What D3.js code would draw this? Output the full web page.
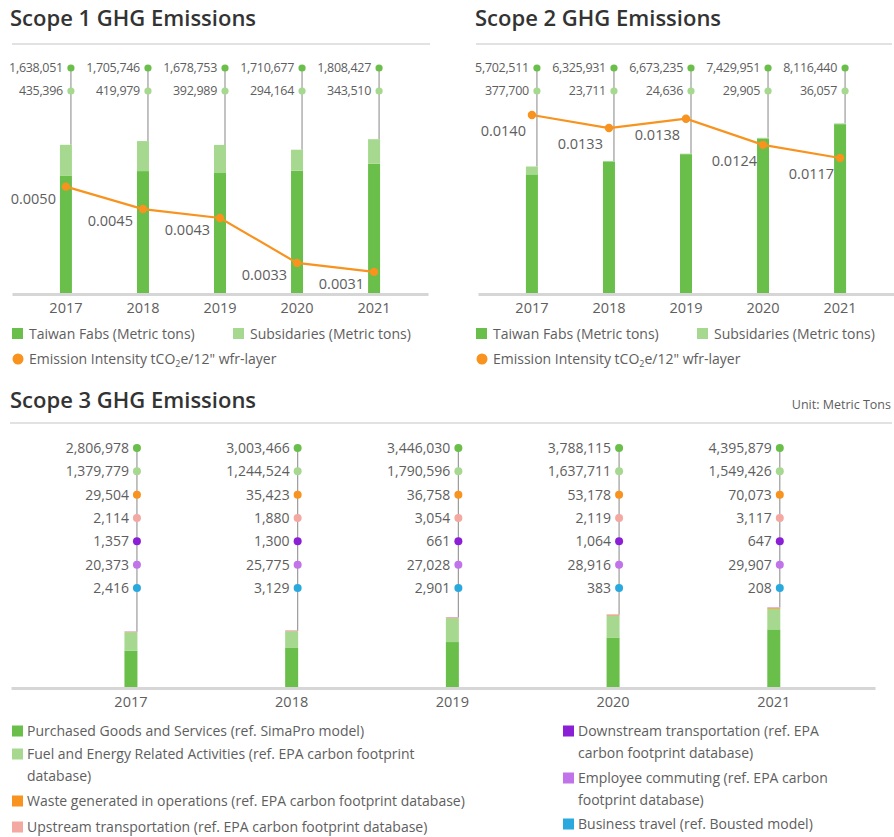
<!DOCTYPE html>
<html>
<head>
<meta charset="utf-8">
<script src="https://cdn.jsdelivr.net/npm/d3@7"></script>
<style>
  body { margin: 0; background: #fff; }
  svg { display: block; font-family: "Open Sans", "Noto Sans", sans-serif; }
</style>
</head>
<body>
<svg id="chart" width="894" height="837"></svg>
<script>
// ---- data ----
const years = ["2017", "2018", "2019", "2020", "2021"];

const scope1Fabs = [1638051, 1705746, 1678753, 1710677, 1808427];
const scope1Subs = [435396, 419979, 392989, 294164, 343510];
const scope1Intensity = [0.0050, 0.0045, 0.0043, 0.0033, 0.0031];

const scope2Fabs = [5702511, 6325931, 6673235, 7429951, 8116440];
const scope2Subs = [377700, 23711, 24636, 29905, 36057];
const scope2Intensity = [0.0140, 0.0133, 0.0138, 0.0124, 0.0117];

const scope3Keys = ["purchased", "fuel", "waste", "upstream", "downstream", "commuting", "travel"];
const scope3Purchased = [2806978, 3003466, 3446030, 3788115, 4395879];
const scope3Fuel = [1379779, 1244524, 1790596, 1637711, 1549426];
const scope3Waste = [29504, 35423, 36758, 53178, 70073];
const scope3Upstream = [2114, 1880, 3054, 2119, 3117];
const scope3Downstream = [1357, 1300, 661, 1064, 647];
const scope3Commuting = [20373, 25775, 27028, 28916, 29907];
const scope3Travel = [2416, 3129, 2901, 383, 208];

const topLegendLabels = ["Taiwan Fabs (Metric tons)", "Subsidaries (Metric tons)"];
const scope3LegendLines = [
  ["Purchased Goods and Services (ref. SimaPro model)"],
  ["Fuel and Energy Related Activities (ref. EPA carbon footprint", "database)"],
  ["Waste generated in operations (ref. EPA carbon footprint database)"],
  ["Upstream transportation (ref. EPA carbon footprint database)"],
  ["Downstream transportation (ref. EPA", "carbon footprint database)"],
  ["Employee commuting (ref. EPA carbon", "footprint database)"],
  ["Business travel (ref. Bousted model)"]
];

// ---- styles ----
const C = {
  fabs: "#6abf4b", subs: "#a6d98f", orange: "#f7931e",
  purchased: "#6abf4b", fuel: "#a6d98f", waste: "#f7931e", upstream: "#f4a8a2",
  downstream: "#8a1fd6", commuting: "#c173ea", travel: "#2aa9df",
  text: "#5e5e5e", title: "#333", rule: "#e2e2e2", axis: "#d6d6d6", stem: "#9a9a9a"
};
const fmt = d3.format(",");
const svg = d3.select("#chart");

function title(x, y, str) {
  svg.append("text").attr("x", x).attr("y", y).text(str)
    .attr("font-size", 22).attr("font-weight", 600).attr("fill", C.title);
}

function rule(x1, x2, y) {
  svg.append("line").attr("x1", x1).attr("x2", x2).attr("y1", y).attr("y2", y)
    .attr("stroke", C.rule).attr("stroke-width", 2);
}

function axis(g, x, y0, fontSize) {
  const a = g.append("g").attr("transform", `translate(0,${y0})`)
    .call(d3.axisBottom(x).tickSize(0).tickPadding(9));
  a.select(".domain").attr("stroke", C.axis).attr("stroke-width", 3);
  a.selectAll("text").attr("font-size", fontSize).attr("fill", C.text)
    .attr("font-family", "Open Sans, sans-serif");
}

// ---- scope 1 / scope 2 panels ----
function topPanel(cfg) {
  const g = svg.append("g");
  title(cfg.titleX, 26, cfg.title);
  rule(cfg.ruleX[0], cfg.ruleX[1], 44);

  const base = 293, top = 60;
  const x = d3.scaleBand().domain(years).range(cfg.range).paddingInner(0).paddingOuter(0.2);
  const y = d3.scaleLinear().domain([0, cfg.max]).range([base, top]);
  const yi = d3.scaleLinear().domain(cfg.intDomain).range([base, top]);
  const rowY = d3.scalePoint().domain(["fabs", "subs"]).range([68, 91]);
  const cx = d => x(d) + x.bandwidth() / 2;
  const barW = 12;

  const rows = years.map((yr, i) => ({ year: yr, fabs: cfg.fabs[i], subs: cfg.subs[i] }));
  const series = d3.stack().keys(["fabs", "subs"])(rows);

  // stems from the value markers down to the bar top
  g.selectAll(".stem").data(series[1]).join("line")
    .attr("x1", d => cx(d.data.year) + 5).attr("x2", d => cx(d.data.year) + 5)
    .attr("y1", rowY("fabs")).attr("y2", d => y(d[1]))
    .attr("stroke", C.stem).attr("stroke-width", 1.2);

  // stacked bars
  g.selectAll(".layer").data(series).join("g").attr("fill", s => C[s.key])
    .selectAll("rect").data(s => s).join("rect")
    .attr("x", d => cx(d.data.year) - barW / 2).attr("width", barW)
    .attr("y", d => y(d[1])).attr("height", d => y(d[0]) - y(d[1]));

  axis(g, x, base + 1, 14.5);

  // value markers and labels
  ["fabs", "subs"].forEach(k => {
    g.selectAll(".dot-" + k).data(rows).join("circle")
      .attr("cx", d => cx(d.year) + 5).attr("cy", rowY(k)).attr("r", 3.6).attr("fill", C[k]);
    g.selectAll(".lab-" + k).data(rows).join("text")
      .attr("x", d => cx(d.year) - 3).attr("y", rowY(k)).attr("dy", "0.35em")
      .attr("text-anchor", "end").attr("font-size", 12.5).attr("fill", C.text)
      .attr("letter-spacing", -0.3)
      .text(d => fmt(d[k]));
  });

  // intensity line
  const pts = years.map((yr, i) => ({ year: yr, v: cfg.intensity[i] }));
  g.append("path").datum(pts)
    .attr("d", d3.line().x(d => cx(d.year)).y(d => yi(d.v)))
    .attr("fill", "none").attr("stroke", C.orange).attr("stroke-width", 2.2);
  g.selectAll(".ipt").data(pts).join("circle")
    .attr("cx", d => cx(d.year)).attr("cy", d => yi(d.v)).attr("r", 4.2).attr("fill", C.orange);
  g.selectAll(".ilab").data(pts).join("text")
    .attr("x", d => cx(d.year) + cfg.labDx).attr("y", d => yi(d.v) + cfg.labDy).attr("dy", "0.35em")
    .attr("text-anchor", "end").attr("font-size", 14.5).attr("fill", C.text)
    .text(d => d3.format(".4f")(d.v));

  // legend
  const lx = cfg.legendX;
  [["fabs", 0], ["subs", 1]].forEach(([k, i]) => {
    const ox = lx + i * 221;
    g.append("rect").attr("x", ox).attr("y", 328).attr("width", 11).attr("height", 11).attr("fill", C[k]);
    g.append("text").attr("x", ox + 17).attr("y", 334).attr("dy", "0.35em")
      .attr("font-size", 14).attr("fill", C.text).text(topLegendLabels[i]);
  });
  g.append("circle").attr("cx", lx + 6).attr("cy", 359).attr("r", 5.5).attr("fill", C.orange);
  const t = g.append("text").attr("x", lx + 17).attr("y", 359).attr("dy", "0.35em")
    .attr("font-size", 14).attr("fill", C.text);
  t.append("tspan").text("Emission Intensity tCO");
  t.append("tspan").attr("font-size", 9).attr("dy", 3).text("2");
  t.append("tspan").attr("dy", -3).text("e/12\" wfr-layer");
}

topPanel({
  title: "Scope 1 GHG Emissions", titleX: 10, ruleX: [12, 430], range: [12, 428],
  fabs: scope1Fabs, subs: scope1Subs, intensity: scope1Intensity,
  max: 3260000, intDomain: [0.00263, 0.00782], labDx: -10, labDy: 12, legendX: 12
});
topPanel({
  title: "Scope 2 GHG Emissions", titleX: 475, ruleX: [476, 892], range: [478, 894],
  fabs: scope2Fabs, subs: scope2Subs, intensity: scope2Intensity,
  max: 11200000, intDomain: [0.00448, 0.01694], labDx: -6, labDy: 16, legendX: 476
});

// ---- scope 3 panel ----
(function () {
  const g = svg.append("g");
  title(10, 408, "Scope 3 GHG Emissions");
  svg.append("text").attr("x", 891).attr("y", 405).attr("dy", "0.35em").attr("text-anchor", "end")
    .attr("font-size", 12.5).attr("fill", C.text).text("Unit: Metric Tons");
  rule(10, 892, 423);

  const base = 688, top = 440;
  const x = d3.scaleBand().domain(years).range([11, 875]).paddingInner(0).paddingOuter(0.188).align(0.655);
  const y = d3.scaleLinear().domain([0, 18600000]).range([base, top]);
  const rowY = d3.scalePoint().domain(scope3Keys).range([448, 588]);
  const cx = d => x(d) + x.bandwidth() / 2;
  const barW = 13;

  const cols = { purchased: scope3Purchased, fuel: scope3Fuel, waste: scope3Waste, upstream: scope3Upstream,
    downstream: scope3Downstream, commuting: scope3Commuting, travel: scope3Travel };
  const rows = years.map((yr, i) => {
    const r = { year: yr };
    scope3Keys.forEach(k => r[k] = cols[k][i]);
    return r;
  });
  const series = d3.stack().keys(scope3Keys)(rows);
  const last = series[series.length - 1];

  g.selectAll(".stem").data(last).join("line")
    .attr("x1", d => cx(d.data.year) + 6).attr("x2", d => cx(d.data.year) + 6)
    .attr("y1", rowY(scope3Keys[0])).attr("y2", d => y(d[1]))
    .attr("stroke", C.stem).attr("stroke-width", 1.2);

  g.selectAll(".layer").data(series).join("g").attr("fill", s => C[s.key])
    .selectAll("rect").data(s => s).join("rect")
    .attr("x", d => cx(d.data.year) - barW / 2).attr("width", barW)
    .attr("y", d => y(d[1])).attr("height", d => Math.max(0, y(d[0]) - y(d[1])));

  axis(g, x, base, 14.5);

  scope3Keys.forEach(k => {
    g.selectAll(".dot-" + k).data(rows).join("circle")
      .attr("cx", d => cx(d.year) + 6).attr("cy", rowY(k)).attr("r", 4).attr("fill", C[k]);
    g.selectAll(".lab-" + k).data(rows).join("text")
      .attr("x", d => cx(d.year) - 2).attr("y", rowY(k)).attr("dy", "0.35em")
      .attr("text-anchor", "end").attr("font-size", 14).attr("fill", C.text)
      .text(d => fmt(d[k]));
  });

  // legend: two columns
  const legendPos = [
    { x: 12, y: 731 }, { x: 12, y: 754 }, { x: 12, y: 801 }, { x: 12, y: 827 },
    { x: 563, y: 731 }, { x: 563, y: 778 }, { x: 563, y: 824 }
  ];
  scope3Keys.forEach((k, i) => {
    const p = legendPos[i];
    g.append("rect").attr("x", p.x).attr("y", p.y - 5.5).attr("width", 11).attr("height", 11).attr("fill", C[k]);
    const t = g.append("text").attr("x", p.x + 15).attr("y", p.y).attr("dy", "0.35em")
      .attr("font-size", 14).attr("fill", C.text);
    scope3LegendLines[i].forEach((line, j) => {
      t.append("tspan").attr("x", p.x + 15).attr("dy", j === 0 ? "0.35em" : 22).text(line);
    });
  });
})();
</script>
</body>
</html>
